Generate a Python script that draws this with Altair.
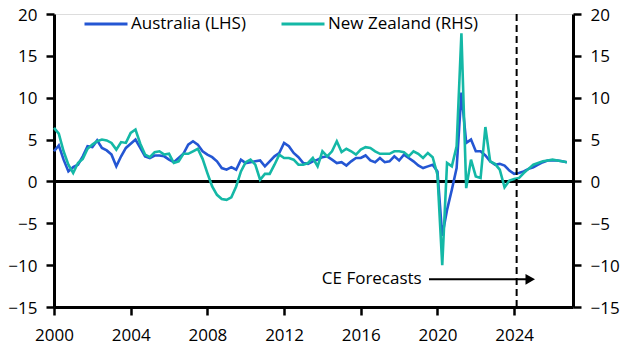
import altair as alt
import pandas as pd

# Quarterly data, 2000 Q1 .. 2026 Q4 (% y/y)
australia = [
    3.6, 4.3, 2.6, 1.2,
    1.7, 2.0, 3.0, 4.2,
    4.1, 4.9, 4.0, 3.7,
    3.2, 1.8, 3.0, 4.0,
    4.5, 5.0, 4.0, 3.0,
    2.8, 3.1, 3.1, 3.0,
    2.6, 2.3, 2.8, 3.3,
    4.4, 4.8, 4.4, 3.6,
    3.2, 2.9, 2.4, 1.6,
    1.4, 1.7, 1.4, 2.6,
    2.2, 2.3, 2.4, 2.5,
    1.8, 2.4, 3.0, 3.4,
    4.6, 4.2, 3.4, 2.9,
    2.2, 2.1, 2.4, 2.6,
    2.9, 3.0, 2.6, 2.2,
    2.3, 1.9, 2.4, 2.8,
    2.8, 3.1, 2.5, 2.3,
    2.8, 2.3, 2.4, 3.0,
    2.5, 3.2, 2.8, 2.4,
    1.9, 1.6, 1.8, 2.0,
    1.2, -6.5, -3.4, -1.0,
    1.6, 10.6, 4.6, 5.0,
    3.6, 3.6, 3.1, 2.4,
    2.0, 2.1, 1.9, 1.3,
    0.9, 1.0, 1.2, 1.5,
    1.7, 2.0, 2.3, 2.5,
    2.5, 2.5, 2.4, 2.3,
]
new_zealand = [
    6.4, 5.7, 3.6, 2.0,
    1.0, 2.2, 2.7, 3.9,
    4.4, 4.8, 5.0, 4.9,
    4.6, 3.8, 4.7, 4.6,
    5.8, 6.2, 4.5, 3.2,
    2.9, 3.5, 3.6, 3.2,
    3.3, 2.2, 2.4, 3.3,
    3.3, 3.6, 3.9, 2.7,
    1.0, -0.6, -1.6, -2.1,
    -2.2, -1.9, -0.6, 1.2,
    2.3, 2.6, 2.0, 0.2,
    0.9, 0.9, 2.0, 3.2,
    2.8, 2.8, 2.6, 2.0,
    2.0, 2.2, 2.8, 1.8,
    3.6, 3.0, 3.6, 4.8,
    3.5, 3.9, 3.6, 3.2,
    3.8, 4.1, 4.0, 3.6,
    3.3, 3.3, 3.3, 3.6,
    3.6, 3.5, 3.0, 3.6,
    3.3, 2.8, 3.4, 2.9,
    0.8, -10.0, 2.2, 1.8,
    4.2, 17.7, -0.8, 2.6,
    0.6, 0.4, 6.5, 2.4,
    2.1, 1.4, -0.7, 0.1,
    0.3, 0.4, 1.0, 1.5,
    2.0, 2.2, 2.4, 2.5,
    2.6, 2.5, 2.4, 2.3,
]
series_names = ["Australia (LHS)", "New Zealand (RHS)"]
series_colors = ["#2456d3", "#14b8a6"]
x_ticks = [2000, 2004, 2008, 2012, 2016, 2020, 2024]
y_ticks = [-15, -10, -5, 0, 5, 10, 15, 20]
x_domain = [2000, 2027.07]
y_domain = [-15, 20]
forecast_start = 2024.13
annot_text = "CE Forecasts"
annot_text_x = 2019.18
annot_y = -11.7
arrow_x0 = 2019.56
arrow_x1 = 2024.7
arrow_head_x = 2024.84

FONT = "Open Sans"
FS = 17

t = [2000 + i / 4 for i in range(len(australia))]
df = pd.DataFrame({
    "t": t * 2,
    "v": australia + new_zealand,
    "s": [series_names[0]] * len(t) + [series_names[1]] * len(t),
})

xscale = alt.Scale(domain=x_domain, nice=False, zero=False)
yscale = alt.Scale(domain=y_domain, nice=False)

def yaxis(orient):
    return alt.Axis(orient=orient, values=y_ticks, grid=False, title=None,
                    domainColor="black", domainWidth=3, tickColor="black",
                    tickWidth=2.5, tickSize=8, labelFont=FONT, labelFontSize=FS,
                    labelColor="black", labelPadding=9, labelOffset=1)

xaxis = alt.Axis(values=x_ticks, format="d", grid=False, title=None,
                 domainColor="black", domainWidth=3, tickColor="black",
                 tickWidth=2.5, tickSize=8, labelFont=FONT, labelFontSize=FS,
                 labelColor="black", labelPadding=12, labelFlush=False)

zero = alt.Chart(pd.DataFrame({"z": [0]})).mark_rule(color="black", strokeWidth=3).encode(
    y=alt.Y("z:Q", scale=yscale, axis=yaxis("right")),
)

lines = alt.Chart(df).mark_line(strokeWidth=2.6).encode(
    x=alt.X("t:Q", scale=xscale, axis=xaxis),
    y=alt.Y("v:Q", scale=yscale, axis=yaxis("left")),
    color=alt.Color("s:N", scale=alt.Scale(domain=series_names, range=series_colors),
                    legend=alt.Legend(orient="none", legendX=29, legendY=-13,
                                      direction="horizontal", title=None,
                                      symbolType="stroke", symbolSize=1849,
                                      symbolStrokeWidth=3, labelFont=FONT,
                                      labelFontSize=FS, labelColor="black",
                                      labelOffset=2, columnPadding=29, padding=0)),
)

ann = pd.DataFrame({"x": [forecast_start]})
dashed = alt.Chart(ann).mark_rule(color="black", strokeWidth=2, strokeDash=[7, 4]).encode(
    x=alt.X("x:Q", scale=xscale),
)

arrow_df = pd.DataFrame({"x0": [arrow_x0], "x1": [arrow_x1], "y": [annot_y],
                         "hx": [arrow_head_x], "label": [annot_text], "tx": [annot_text_x]})
arrow_line = alt.Chart(arrow_df).mark_rule(color="black", strokeWidth=2).encode(
    x=alt.X("x0:Q", scale=xscale), x2="x1:Q", y=alt.Y("y:Q", scale=yscale),
)
arrow_head = alt.Chart(arrow_df).mark_point(shape="triangle-right", filled=True, color="black",
                                            size=120, opacity=1).encode(
    x=alt.X("hx:Q", scale=xscale), y=alt.Y("y:Q", scale=yscale),
)
arrow_text = alt.Chart(arrow_df).mark_text(align="right", baseline="middle", font=FONT,
                                           fontSize=FS, color="black").encode(
    x=alt.X("tx:Q", scale=xscale), y=alt.Y("y:Q", scale=yscale), text="label:N",
)

left_layer = alt.layer(lines, dashed, arrow_line, arrow_head, arrow_text)
chart = alt.layer(zero, left_layer).resolve_scale(y="independent").properties(
    width=519, height=293,
    autosize=alt.AutoSizeParams(type="none"),
    padding={"left": 46, "top": 6, "right": 50, "bottom": 45},
).configure_view(stroke=None).configure(background="white")

chart.save("out.html", embed_options={"renderer": "svg", "actions": False})
